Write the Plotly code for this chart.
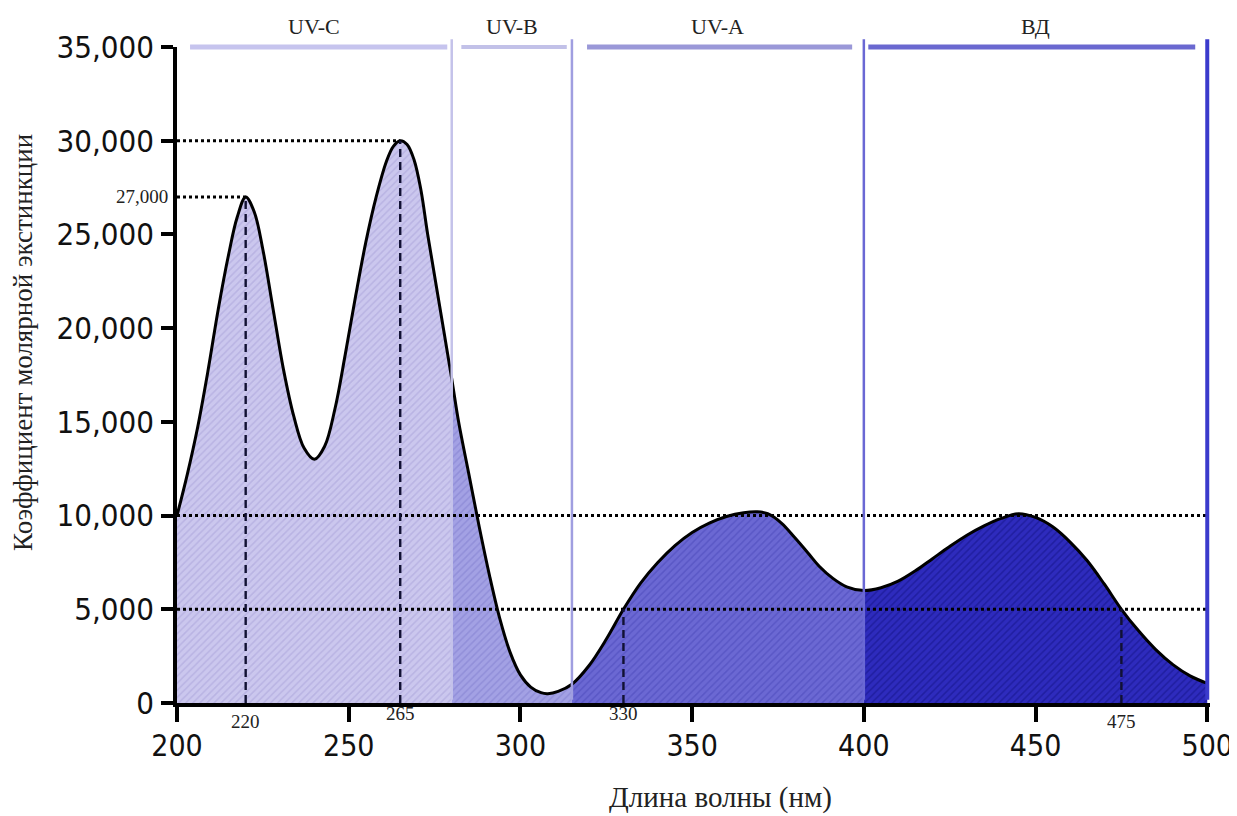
import plotly.graph_objects as go

# ---------------- data ----------------
wavelength_nm = [200, 203, 206, 209, 212, 215, 217.5, 220, 222.5, 225, 228, 231, 234, 237, 240,
                 243, 246, 249, 252, 255, 258, 261, 263, 265, 267, 269, 271, 273, 276, 280,
                 282, 285, 288, 291, 294, 297, 300, 303, 306, 308, 311, 315, 320, 325, 330,
                 335, 340, 345, 350, 355, 360, 365, 369, 372, 376, 380, 384, 387, 391, 395,
                 400, 405, 410, 415, 420, 425, 430, 435, 440, 445, 450, 455, 460, 465, 470,
                 475, 480, 485, 490, 495, 500]
extinction = [10000, 12200, 14700, 17700, 21000, 23900, 25900, 27000, 26200, 24200, 21000, 17800, 15300, 13600, 13000,
              13700, 15700, 18600, 21700, 24600, 27000, 28900, 29700, 30000, 29800, 29000, 27400, 25000, 21700, 17300,
              15000, 12200, 9400, 6800, 4500, 2700, 1500, 850, 550, 500, 620, 1000, 2000, 3400, 5000,
              6400, 7500, 8400, 9100, 9600, 9950, 10150, 10200, 10100, 9600, 8800, 7950, 7300, 6650, 6200,
              6000, 6150, 6500, 7050, 7700, 8350, 8950, 9450, 9850, 10100, 9900, 9400, 8600, 7600, 6350,
              5000, 3850, 2850, 2050, 1450, 1050]

band_names = ["UV-C", "UV-B", "UV-A", "ВД"]
band_edges = [200, 280, 315, 400, 500]

mark_nm = [220, 265, 330, 475]
mark_val = [27000, 30000, 5000, 5000]
mark_text = ["220", "265", "330", "475"]

peak_ref_levels = [27000, 30000]
peak_ref_ends = [220, 265]
full_ref_levels = [10000, 5000]

y_ticks = [0, 5000, 10000, 15000, 20000, 25000, 30000, 35000]
x_ticks = [200, 250, 300, 350, 400, 450, 500]

# ---------------- styles ----------------
band_fill = ["#cbc7ee", "#a3a1e4", "#6b68d3", "#2e2bbd"]
band_hatch = ["#b4aee0", "#8c8ad6", "#5552c2", "#1c1a98"]
band_line = ["#c6c4ee", "#c2c1e8", "#9a98d8", "#6a68d0"]
band_line_w = [5, 4, 5, 5]
bar_start_pad = [3.8, 2.8, 4.4, 1.3]
bar_end_pad = [1.3, 1.5, 3.4, 3.5]
sep_color = ["#c4c2ea", "#a09ee0", "#6a68d4", "#3b3bcc"]
mark_text_shift = [-18, -10, -10, -18]
SERIF = "Liberation Serif, Times New Roman, serif"
TICKFAM = "DejaVu Sans Condensed, Liberation Sans, sans-serif"

# ---------------- figure ----------------
fig = go.Figure()

for i, name in enumerate(band_names):
    lo, hi = band_edges[i], band_edges[i + 1]
    xs = [x for x in wavelength_nm if lo <= x <= hi]
    ys = [y for x, y in zip(wavelength_nm, extinction) if lo <= x <= hi]
    fig.add_trace(go.Scatter(
        x=xs, y=ys, mode="lines", line=dict(width=0, shape="spline", smoothing=1.0),
        fill="tozeroy", fillcolor=band_fill[i],
        fillpattern=dict(shape="/", size=5, solidity=0.3,
                         fgcolor=band_hatch[i], bgcolor=band_fill[i], fgopacity=0.8),
        hoverinfo="skip", showlegend=False))

fig.add_trace(go.Scatter(
    x=wavelength_nm, y=extinction, mode="lines",
    line=dict(color="black", width=3, shape="spline", smoothing=1.0),
    showlegend=False))

shapes = []
for lvl, end in zip(peak_ref_levels, peak_ref_ends):
    shapes.append(dict(type="line", xref="x", yref="y", x0=band_edges[0], x1=end, y0=lvl, y1=lvl,
                       line=dict(color="black", width=3, dash="dot"), layer="above"))
for lvl in full_ref_levels:
    shapes.append(dict(type="line", xref="x", yref="y", x0=band_edges[0], x1=band_edges[-1], y0=lvl, y1=lvl,
                       line=dict(color="black", width=3, dash="dot"), layer="above"))
for xv, yv in zip(mark_nm, mark_val):
    shapes.append(dict(type="line", xref="x", yref="y", x0=xv, x1=xv, y0=0, y1=yv,
                       line=dict(color="#111133", width=2.4, dash="8px,5px"), layer="above"))
for i, e in enumerate(band_edges[1:]):
    shapes.append(dict(type="line", xref="x", yref="paper", x0=e, x1=e, y0=0.005, y1=1.012,
                       line=dict(color=sep_color[i], width=2.5 if i < 3 else 4), layer="above"))
for i in range(4):
    lo, hi = band_edges[i], band_edges[i + 1]
    shapes.append(dict(type="line", xref="x", yref="paper",
                       x0=lo + bar_start_pad[i], x1=hi - bar_end_pad[i], y0=1.0, y1=1.0,
                       line=dict(color=band_line[i], width=band_line_w[i]), layer="above"))

annotations = []
for i, name in enumerate(band_names):
    annotations.append(dict(x=(band_edges[i] + band_edges[i + 1]) / 2, y=1, xref="x", yref="paper",
                            text=name, showarrow=False, xanchor="center", yanchor="middle", yshift=21,
                            font=dict(family=SERIF, size=22, color="#222222")))
for xv, t, sh in zip(mark_nm, mark_text, mark_text_shift):
    annotations.append(dict(x=xv, y=0, xref="x", yref="y", text=t, showarrow=False,
                            xanchor="center", yanchor="middle", yshift=sh,
                            font=dict(family=SERIF, size=19, color="#222222")))
annotations.append(dict(x=band_edges[0], y=peak_ref_levels[0], xref="x", yref="y", text="27,000",
                        showarrow=False, xanchor="right", yanchor="middle", xshift=-7,
                        font=dict(family=SERIF, size=19, color="#222222")))
annotations.append(dict(x=0.526, y=-0.1433, xref="paper", yref="paper", text="Длина волны (нм)",
                        showarrow=False, xanchor="center", yanchor="middle",
                        font=dict(family=SERIF, size=29, color="#222222")))
annotations.append(dict(x=-0.149, y=0.549, xref="paper", yref="paper", text="Коэффициент молярной экстинкции",
                        showarrow=False, textangle=-90, xanchor="center", yanchor="middle",
                        font=dict(family=SERIF, size=27, color="#222222")))

# page body has an 8px margin, so the figure is drawn 8px smaller and shifted
fig.update_layout(
    width=1229, height=808,
    margin=dict(l=169, r=27, t=39, b=113),
    paper_bgcolor="white", plot_bgcolor="white",
    shapes=shapes, annotations=annotations,
    xaxis=dict(range=[200, 500.8], tickvals=x_ticks, ticktext=[str(v) for v in x_ticks],
               showline=True, linecolor="black", linewidth=3.5, ticks="outside", ticklen=15,
               tickwidth=3.5, tickcolor="black", showgrid=False, zeroline=False, automargin=False,
               tickfont=dict(family=TICKFAM, size=30, color="#111111"),
               ticklabelstandoff=-2),
    yaxis=dict(range=[0, 35000], tickvals=y_ticks, tickformat=",",
               showline=True, linecolor="black", linewidth=3.5, ticks="outside", ticklen=12,
               tickwidth=3.5, tickcolor="black", showgrid=False, zeroline=False, automargin=False,
               tickfont=dict(family=TICKFAM, size=31, color="#111111"), ticklabelstandoff=1),
)

fig.write_html("out.html")
